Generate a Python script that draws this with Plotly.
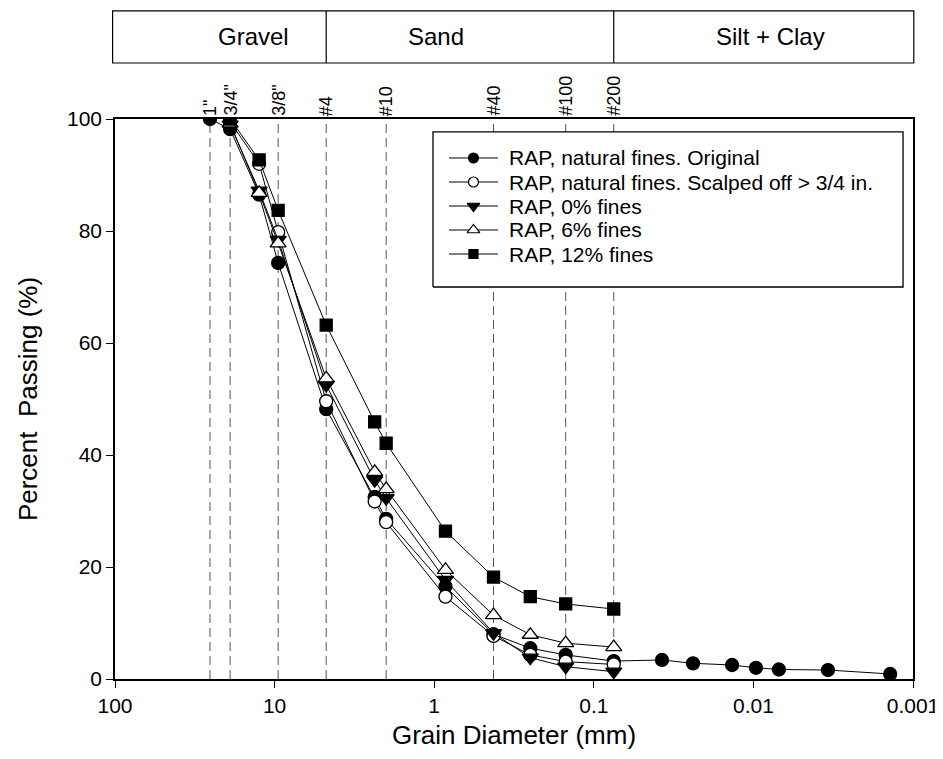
import numpy as np
import plotly.graph_objects as go

# Sieve sizes (mm)
sieve_d = [25.4, 19.0, 12.5, 9.5, 4.75, 2.36, 2.0, 0.85, 0.425, 0.25, 0.15, 0.075]

# Original (with hydrometer)
orig_d = sieve_d + [0.0374, 0.0239, 0.0136, 0.00964, 0.00692, 0.00341, 0.00139]
orig_p = [100, 98.2, 86.5, 74.3, 48.2, 32.5, 28.6, 16.5, 8.0, 5.5, 4.3, 3.2,
          3.4, 2.8, 2.5, 2.0, 1.7, 1.6, 0.9]

sc_d = sieve_d[1:]
scalped_p = [99.5, 92.0, 79.8, 49.6, 31.7, 28.0, 14.7, 7.7, 4.3, 3.1, 2.6]
f0_p = [99.0, 87.2, 78.4, 52.5, 35.5, 32.3, 17.7, 8.2, 3.8, 2.2, 1.3]
f6_p = [99.2, 86.8, 77.8, 53.7, 37.0, 33.9, 19.5, 11.4, 7.9, 6.4, 5.7]
f12_p = [100, 92.7, 83.7, 63.2, 45.9, 42.1, 26.4, 18.2, 14.7, 13.4, 12.5]

names = ["RAP, natural fines. Original",
         "RAP, natural fines. Scalped off > 3/4 in.",
         "RAP, 0% fines",
         "RAP, 6% fines",
         "RAP, 12% fines"]

line_d = [25.4, 19.0, 9.5, 4.75, 2.0, 0.425, 0.15, 0.075]
line_lbl = ['1"', '3/4"', '3/8"', '#4', '#10', '#40', '#100', '#200']

zones = ["Gravel", "Sand", "Silt + Clay"]
zone_bounds = [4.75, 0.075]

FONT = "Liberation Sans, Arial, sans-serif"

styles = [
    dict(symbol="circle", size=13, color="black"),
    dict(symbol="circle", size=13, color="white"),
    dict(symbol="triangle-down", size=14, color="black"),
    dict(symbol="triangle-up", size=14, color="white"),
    dict(symbol="square", size=12, color="black"),
]
series = [(orig_d, orig_p), (sc_d, scalped_p), (sc_d, f0_p), (sc_d, f6_p), (sc_d, f12_p)]

fig = go.Figure()

# dashed sieve lines
for d in line_d:
    fig.add_trace(go.Scatter(x=[d, d], y=[0, 100], mode="lines",
                             line=dict(color="#555555", width=1, dash="9px,5px"),
                             showlegend=False, hoverinfo="skip"))

for (xd, yd), st, nm in zip(series, styles, names):
    fig.add_trace(go.Scatter(x=xd, y=yd, mode="lines+markers", name=nm, showlegend=False,
                             line=dict(color="black", width=1),
                             marker=dict(symbol=st["symbol"], size=st["size"], color=st["color"],
                                         line=dict(color="black", width=1.3))))

# custom legend drawn on an overlay axis (plot-fraction units)
leg_x0, leg_x1, leg_top, leg_bot = 0.3985, 0.9875, 0.977, 0.700
leg_rows = [0.9304, 0.8875, 0.8446, 0.8018, 0.7589]
samp_x0, samp_x1, text_x = 0.4185, 0.4799, 0.4915
fig.add_trace(go.Scatter(x=[leg_x0, leg_x1, leg_x1, leg_x0, leg_x0],
                         y=[leg_bot, leg_bot, leg_top, leg_top, leg_bot],
                         mode="lines", fill="toself", fillcolor="white",
                         line=dict(color="black", width=1.3),
                         xaxis="x2", yaxis="y2", showlegend=False, hoverinfo="skip"))
for st, nm, yy in zip(styles, names, leg_rows):
    fig.add_trace(go.Scatter(x=[samp_x0, samp_x1], y=[yy, yy], mode="lines",
                             xaxis="x2", yaxis="y2", showlegend=False, hoverinfo="skip",
                             line=dict(color="black", width=1)))
    fig.add_trace(go.Scatter(x=[(samp_x0 + samp_x1) / 2], y=[yy], mode="markers",
                             xaxis="x2", yaxis="y2", showlegend=False, hoverinfo="skip",
                             marker=dict(symbol=st["symbol"], size=st["size"] - 3,
                                         color=st["color"], line=dict(color="black", width=1.2))))
    fig.add_annotation(x=text_x, y=yy, xref="paper", yref="paper", text=nm, showarrow=False,
                       xanchor="left", yanchor="middle",
                       font=dict(size=21, color="black", family=FONT))

# sieve labels
for d, t in zip(line_d, line_lbl):
    fig.add_annotation(x=np.log10(d), y=1.0, xref="x", yref="paper", text=t,
                       textangle=-90, showarrow=False, xanchor="center", yanchor="bottom",
                       yshift=1, font=dict(size=18, color="black", family=FONT))

# zone band
y0b, y1b = 1.1, 1.193
fig.add_shape(type="rect", xref="paper", yref="paper", x0=-0.003, x1=1.001, y0=y0b, y1=y1b,
              line=dict(color="black", width=1.2))
for b in zone_bounds:
    fig.add_shape(type="line", xref="x", yref="paper", x0=b, x1=b,
                  y0=y0b, y1=y1b, line=dict(color="black", width=1.2))
for t, xp in zip(zones, [0.174, 0.402, 0.821]):
    fig.add_annotation(x=xp, y=(y0b + y1b) / 2, xref="paper", yref="paper", text=t,
                       showarrow=False, xanchor="center", yanchor="middle",
                       font=dict(size=24, color="black", family=FONT))

fig.update_layout(
    xaxis=dict(type="log", range=[2, -3], showline=True, linecolor="black", linewidth=1.5,
               mirror=True, ticks="outside", ticklen=7, tickcolor="black",
               tickvals=[100, 10, 1, 0.1, 0.01, 0.001],
               ticktext=["100", "10", "1", "0.1", "0.01", "0.001"],
               showgrid=False, zeroline=False, automargin=False,
               tickfont=dict(size=21, color="black", family=FONT),
               title=dict(text="Grain Diameter (mm)", standoff=10,
                          font=dict(size=26, color="black", family=FONT))),
    yaxis=dict(range=[0, 100], showline=True, linecolor="black", linewidth=1.5,
               mirror=True, ticks="outside", ticklen=7, tickcolor="black",
               tickvals=[0, 20, 40, 60, 80, 100], showgrid=False, zeroline=False,
               automargin=False,
               tickfont=dict(size=21, color="black", family=FONT),
               title=dict(text="Percent\u00a0 Passing (%)", standoff=22,
                          font=dict(size=26, color="black", family=FONT))),
    xaxis2=dict(overlaying="x", anchor="y2", range=[0, 1], visible=False, automargin=False),
    yaxis2=dict(overlaying="y", anchor="x2", range=[0, 1], visible=False, automargin=False),
    width=935, height=751, margin=dict(l=107, r=30, t=111, b=80),
    paper_bgcolor="white", plot_bgcolor="white",
    font=dict(family=FONT, color="black"),
    showlegend=False,
)

fig.write_html("out.html")
